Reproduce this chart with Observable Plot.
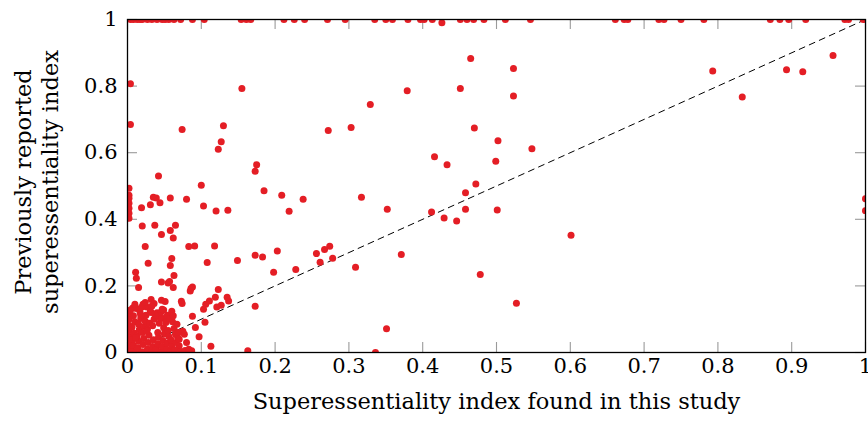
<!DOCTYPE html>
<html>
<head>
<meta charset="utf-8">
<script src="https://cdn.jsdelivr.net/npm/d3@7"></script>
<script src="https://cdn.jsdelivr.net/npm/@observablehq/plot@0.6"></script>
<style>
  html, body { margin: 0; padding: 0; background: #fff; }
</style>
</head>
<body>
<div id="chart"></div>
<script>
// Superessentiality index found in this study (x) vs previously reported (y)
const found = [
  // y = 1 row
  0.004,0.008,0.013,0.017,0.020,0.027,0.033,0.040,0.047,0.051,0.056,0.063,0.072,0.088,0.104,0.154,0.161,0.167,0.212,0.226,0.240,0.271,0.295,0.335,0.350,0.359,0.380,0.397,0.402,0.413,0.426,0.451,0.460,0.469,0.483,0.512,0.546,0.661,0.673,0.678,0.720,0.727,0.750,0.781,0.871,0.884,0.896,0.919,0.972,0.977,0.997,
  // upper / middle scatter
  0.004,0.155,0.004,0.074,0.130,0.127,0.123,0.329,0.272,0.303,0.042,0.175,0.173,0.100,0.185,0.209,0.238,0.317,0.035,0.039,0.058,0.080,0.044,0.031,0.019,0.103,0.120,0.136,
  0.002,0.002,0.002,0.002,0.002,0.002,0.002,
  0.219,0.020,0.037,0.065,0.058,0.046,0.062,0.024,0.083,0.091,0.118,0.060,0.028,0.058,0.108,0.149,0.173,0.183,0.203,0.256,0.267,0.274,0.261,0.278,0.309,0.198,0.228,0.011,0.012,0.015,0.046,0.055,0.057,0.062,0.063,0.085,0.088,0.123,0.086,0.111,0.119,0.135,0.137,0.127,0.121,0.106,0.103,0.073,0.074,0.173,0.088,0.105,0.092,0.075,0.077,0.097,0.070,0.087,0.113,0.163,0.063,0.061,0.060,0.060,0.049,0.046,0.051,0.032,0.007,0.012,0.021,0.026,0.036,0.040,
  // right side
  0.465,0.523,0.379,0.451,0.523,0.470,0.502,0.548,0.416,0.433,0.499,0.472,0.458,0.352,0.412,0.458,0.501,0.429,0.446,0.601,0.371,0.478,0.527,0.351,0.336,0.793,0.893,0.915,0.833,0.956,1.000,1.000,
  // dense cluster near the origin
  0.002,0.002,0.002,0.002,0.002,0.002,0.002,0.002,0.006,0.008,0.007,0.009,0.006,0.010,0.008,0.012,0.014,0.015,0.013,0.016,0.015,0.018,0.017,0.020,0.021,0.022,0.020,0.023,0.024,0.025,0.027,0.028,0.029,0.027,0.030,0.031,0.033,0.034,0.035,0.034,0.036,0.039,0.041,0.042,0.043,0.044,0.046,0.047,0.048,0.050,0.049,0.052,0.053,0.054,0.056,0.055,0.058,0.060,0.059,0.064,0.066,0.068,0.072,0.078,0.083,0.045,0.054,0.019,0.033,0.004,0.065,0.067,
  0.011,0.026,0.038,0.049,0.057,0.062,0.070,0.032,0.018,0.041,0.010,0.024,0.047,0.069,0.080
];
const previous = [
  1,1,1,1,1,1,1,1,1,1,1,1,1,1,1,1,1,1,1,1,1,1,1,1,1,1,1,1,1,1,0.99,1,1,1,1,1,1,1,1,1,1,1,1,1,1,1,1,1,1,1,1,
  0.807,0.793,0.685,0.670,0.681,0.633,0.610,0.745,0.667,0.676,0.530,0.564,0.544,0.502,0.486,0.472,0.460,0.466,0.466,0.464,0.464,0.460,0.450,0.444,0.435,0.440,0.425,0.427,
  0.493,0.472,0.463,0.448,0.433,0.418,0.403,
  0.424,0.380,0.382,0.382,0.366,0.354,0.344,0.318,0.318,0.320,0.320,0.282,0.268,0.261,0.270,0.276,0.292,0.287,0.305,0.297,0.309,0.319,0.271,0.283,0.256,0.241,0.249,0.241,0.223,0.195,0.212,0.209,0.213,0.195,0.231,0.185,0.197,0.189,0.192,0.155,0.166,0.166,0.155,0.142,0.137,0.145,0.130,0.154,0.147,0.139,0.109,0.091,0.075,0.064,0.055,0.047,0.020,0.005,0.019,0.005,0.072,0.092,0.107,0.124,0.102,0.157,0.153,0.159,0.134,0.132,0.145,0.137,0.147,0.119,
  0.883,0.853,0.786,0.793,0.770,0.674,0.636,0.612,0.588,0.564,0.574,0.506,0.480,0.430,0.422,0.430,0.428,0.404,0.395,0.352,0.294,0.234,0.148,0.071,0.000,0.845,0.849,0.843,0.767,0.892,0.462,0.426,
  0.002,0.015,0.030,0.048,0.065,0.082,0.100,0.118,0.006,0.022,0.040,0.058,0.076,0.092,0.110,0.004,0.014,0.034,0.050,0.068,0.085,0.102,0.120,0.002,0.024,0.042,0.060,0.078,0.094,0.112,0.010,0.030,0.052,0.070,0.088,0.124,0.003,0.018,0.038,0.080,0.100,0.010,0.026,0.046,0.088,0.105,0.004,0.018,0.036,0.056,0.074,0.090,0.010,0.028,0.048,0.066,0.003,0.020,0.038,0.008,0.030,0.045,0.003,0.006,0.010,0.120,0.112,0.136,0.140,0.128,0.055,0.085,
  0.045,0.064,0.112,0.128,0.102,0.110,0.040,0.120,0.112,0.060,0.145,0.150,0.130,0.060,0.030
];
const xTicks = [0, 0.1, 0.2, 0.3, 0.4, 0.5, 0.6, 0.7, 0.8, 0.9, 1];
const yTicks = [0, 0.2, 0.4, 0.6, 0.8, 1];
const diagonal = [0, 1];
const xLabel = "Superessentiality index found in this study";
const yLabel = "Previously reported\nsuperessentiality index";

const points = found.map((x, i) => ({x, y: previous[i]}));

const W = 868, H = 421;
const mTop = 19, mBottom = 69, mLeft = 127, mRight = 3;
const innerH = H - mTop - mBottom;
const innerW = W - mLeft - mRight;
const tickLen = 10;
const tickColor = "#9a9a9a";

const chart = Plot.plot({
  width: W,
  height: H,
  marginTop: mTop,
  marginBottom: mBottom,
  marginLeft: mLeft,
  marginRight: mRight,
  style: {fontFamily: "'DejaVu Serif', serif", fontSize: "21px", color: "#000", background: "#fff", overflow: "visible"},
  x: {domain: [0, 1]},
  y: {domain: [0, 1]},
  marks: [
    // inward ticks on all four sides
    Plot.tickX(xTicks, {x: d => d, stroke: tickColor, strokeWidth: 1.1, insetTop: innerH - tickLen}),
    Plot.tickX(xTicks, {x: d => d, stroke: tickColor, strokeWidth: 1.1, insetBottom: innerH - tickLen}),
    Plot.tickY(yTicks, {y: d => d, stroke: tickColor, strokeWidth: 1.1, insetRight: innerW - tickLen}),
    Plot.tickY(yTicks, {y: d => d, stroke: tickColor, strokeWidth: 1.1, insetLeft: innerW - tickLen}),
    Plot.axisX(xTicks, {tickSize: 0, tickPadding: 6, tickFormat: d => String(d), label: null, fontSize: 21}),
    Plot.axisY(yTicks, {tickSize: 0, tickPadding: 10, tickFormat: d => String(d), label: null, fontSize: 21}),
    Plot.line(diagonal, {x: d => d, y: d => d, stroke: "#000", strokeWidth: 1, strokeDasharray: "6,5"}),
    Plot.dot(points, {x: "x", y: "y", r: 3.5, fill: "#e41e25", stroke: "none", clip: true}),
    Plot.frame({stroke: "#000", strokeWidth: 1.3}),
    Plot.text([xLabel], {frameAnchor: "bottom", dy: 56, text: d => d, fontSize: 22.5, fill: "#000"}),
    Plot.text([yLabel], {frameAnchor: "left", textAnchor: "middle", dx: -92, dy: -4, rotate: -90, text: d => d, fontSize: 22.5, lineHeight: 1.2, fill: "#000"})
  ]
});
document.getElementById("chart").appendChild(chart);
</script>
</body>
</html>
